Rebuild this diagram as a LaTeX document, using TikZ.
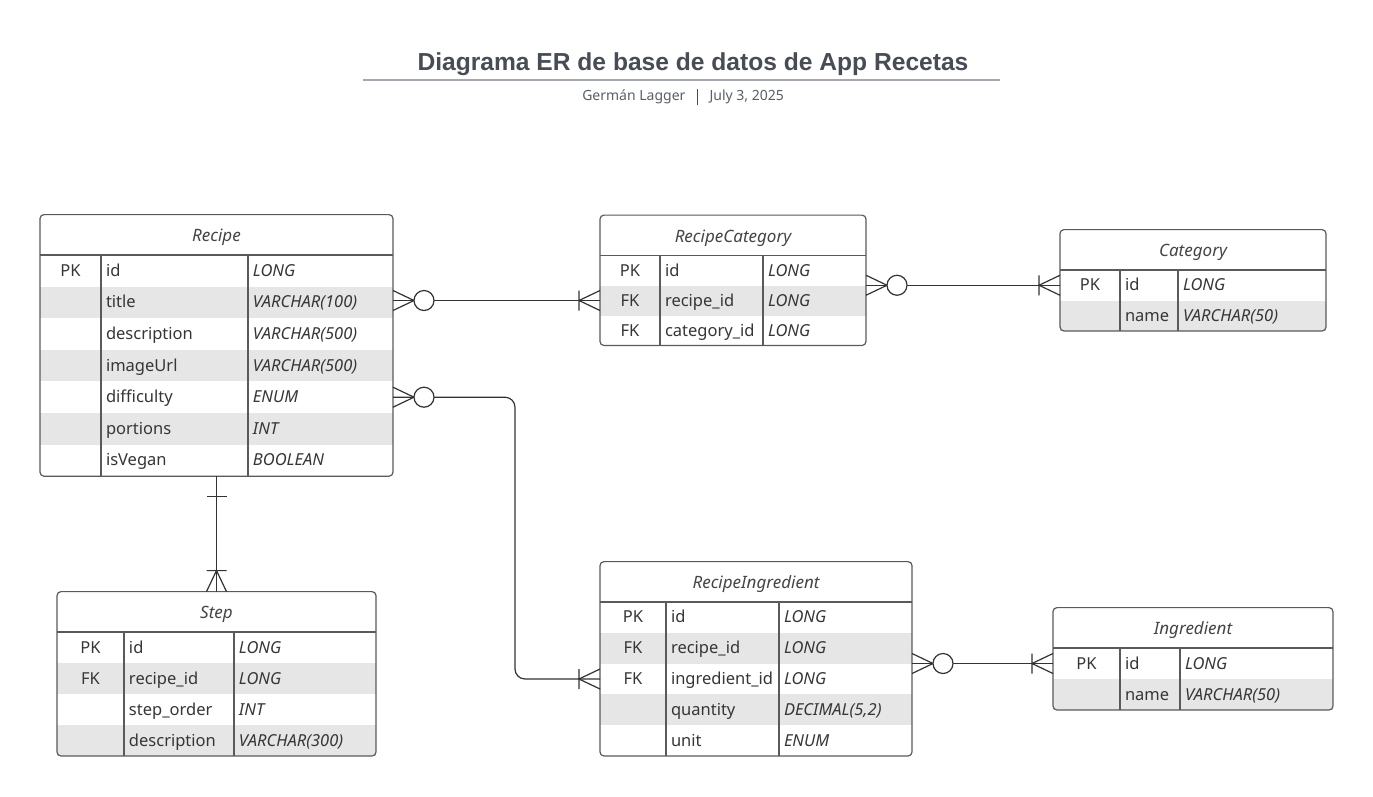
\documentclass[tikz,border=0pt]{standalone}
\usepackage{fontspec}
\setmainfont{Noto Sans}
\newfontfamily\titlefont{Liberation Sans}
\usetikzlibrary{matrix, positioning, calc, backgrounds}
\definecolor{ink}{HTML}{363636}
\definecolor{headink}{HTML}{454545}
\definecolor{headfill}{HTML}{C9C9C9}
\definecolor{stripe}{HTML}{E6E6E6}
\definecolor{framec}{HTML}{5A5A5A}
\definecolor{linec}{HTML}{333333}
\definecolor{titlec}{HTML}{474C55}
\definecolor{rulec}{HTML}{A4A8AF}
\newcommand{\cellfont}{\fontsize{16.5}{19}\selectfont}
\tikzset{
  tbl/.style   = {matrix of nodes, nodes in empty cells, inner sep=0pt, outer sep=0pt,
                  nodes={fill=white, inner xsep=5pt, inner ysep=0pt, outer sep=0pt,
                         minimum height=#1, text height=12.5pt, text depth=1.5pt,
                         anchor=center, font=\cellfont, text=ink},
                  column 1/.style={nodes={align=center}},
                  row 2/.style={nodes={fill=stripe}},
                  row 4/.style={nodes={fill=stripe}},
                  row 6/.style={nodes={fill=stripe}}},
  cols/.style n args = {3}{column 1/.append style={nodes={text width=#1}},
                  column 2/.style={nodes={text width=#2, align=left}},
                  column 3/.style={nodes={text width=#3, align=left, font=\cellfont\itshape}}},
  head/.style  = {minimum height=40pt, inner sep=0pt, text height=14pt, text depth=0pt,
                  font=\fontsize{17}{20}\selectfont\itshape, text=headink},
  frame/.style = {draw=framec, line width=1.2pt},
  conn/.style  = {draw=linec, line width=1.2pt},
  title/.style = {font=\titlefont\bfseries\fontsize{24.6}{28}\selectfont, text=titlec},
  sub/.style   = {font=\fontsize{14}{17}\selectfont, text=titlec!90},
  rule/.style  = {draw=rulec, line width=2pt},
  zeromany/.pic = {\draw[conn] (0,-10) -- (21,0) -- (0,10);
                   \draw[conn, fill=white] (31,0) circle (10);},
  onemany/.pic  = {\draw[conn] (0,-10) -- (21,0) -- (0,10) (21,-10) -- (21,10);},
  justone/.pic  = {\draw[conn] (20,-10) -- (20,10);},
}

\begin{document}
\begin{tikzpicture}[x=1pt, y=-1pt]
    \useasboundingbox[fill=white] (0,0) rectangle (1373,796);

    %% ===================== TITLE =====================
    \node[title] (title) at (693,64) {Diagrama ER de base de datos de App Recetas};
    \draw[rule] (363,80) -- (1000,80);
    \node[sub, anchor=east] (author) at (689,97) {Germán Lagger};
    \node[sub, anchor=west] (date)   at (706,97) {July 3, 2025};
    \draw[draw=titlec, line width=1pt] ($(author.east)!0.5!(date.west)+(0,-8)$) -- ++(0,16);

    %% ===================== TABLES =====================
    \matrix[tbl=31.6pt, cols={51pt}{137pt}{135pt}, anchor=north west] (recipe) at (40,255) {
      PK & id          & LONG         \\
         & title       & VARCHAR(100) \\
         & description & VARCHAR(500) \\
         & imageUrl    & VARCHAR(500) \\
         & difficulty  & ENUM         \\
         & portions    & INT          \\
         & isVegan     & BOOLEAN      \\
    };
    \node[head, above=0pt of recipe] (recipe-h) {Recipe};

    \matrix[tbl=30pt, cols={50pt}{93pt}{93pt}, anchor=north west] (rcat) at (600,255.5) {
      PK & id          & LONG \\
      FK & recipe\_id   & LONG \\
      FK & category\_id & LONG \\
    };
    \node[head, above=0pt of rcat] (rcat-h) {RecipeCategory};

    \matrix[tbl=30.5pt, cols={50pt}{48pt}{138pt}, anchor=north west] (cat) at (1060,270) {
      PK & id   & LONG        \\
         & name & VARCHAR(50) \\
    };
    \node[head, above=0pt of cat] (cat-h) {Category};

    \matrix[tbl=31pt, cols={57pt}{100pt}{132pt}, anchor=north west] (step) at (57,632) {
      PK & id          & LONG         \\
      FK & recipe\_id   & LONG         \\
         & step\_order  & INT          \\
         & description & VARCHAR(300) \\
    };
    \node[head, above=0pt of step] (step-h) {Step};

    \matrix[tbl=30.8pt, cols={56pt}{103pt}{123pt}, anchor=north west] (ring) at (600,602) {
      PK & id             & LONG         \\
      FK & recipe\_id      & LONG         \\
      FK & ingredient\_id  & LONG         \\
         & quantity       & DECIMAL(5,2) \\
         & unit           & ENUM         \\
    };
    \node[head, above=0pt of ring] (ring-h) {RecipeIngredient};

    \matrix[tbl=31pt, cols={57pt}{50pt}{143pt}, anchor=north west] (ing) at (1053,648) {
      PK & id   & LONG        \\
         & name & VARCHAR(50) \\
    };
    \node[head, above=0pt of ing] (ing-h) {Ingredient};

    %% frames, header fill and column rules
    \foreach \t/\n in {recipe/7, rcat/3, cat/2, step/4, ring/5, ing/2} {
      \begin{scope}[on background layer]
        \fill[headfill, rounded corners=4pt] (\t.west |- \t-h.north) rectangle (\t.south east);
      \end{scope}
      \draw[frame, rounded corners=4pt] (\t.west |- \t-h.north) rectangle (\t.south east);
      \draw[frame] (\t.north west) -- (\t.north east)
                   (\t-1-2.north west) -- (\t-\n-2.south west)
                   (\t-1-3.north west) -- (\t-\n-3.south west);
    }

    %% ===================== RELATIONS =====================
    \coordinate (rec-rc) at (recipe.east |- rcat-2-1.west);
    \coordinate (rc-cat) at (rcat.east |- cat-1-1.west);
    \coordinate (ri-ing) at (ring.east |- ing-1-1.west);

    \draw[conn] (rec-rc) -- (rcat-2-1.west);
    \draw[conn] (rc-cat) -- (cat-1-1.west);
    \draw[conn, rounded corners=10pt] (recipe-5-3.east) -- ++(122,0) |- (ring-3-1.west);
    \draw[conn] (ri-ing) -- (ing-1-1.west);
    \draw[conn] (recipe.south) -- (step-h.north);

    \pic at (rec-rc) {zeromany};
    \pic[rotate=180] at (rcat-2-1.west) {onemany};
    \pic at (rc-cat) {zeromany};
    \pic[rotate=180] at (cat-1-1.west) {onemany};
    \pic at (recipe-5-3.east) {zeromany};
    \pic[rotate=180] at (ring-3-1.west) {onemany};
    \pic at (ri-ing) {zeromany};
    \pic[rotate=180] at (ing-1-1.west) {onemany};
    \pic[rotate=-90] at (recipe.south) {justone};
    \pic[rotate=90] at (step-h.north) {onemany};

\end{tikzpicture}
\end{document}
